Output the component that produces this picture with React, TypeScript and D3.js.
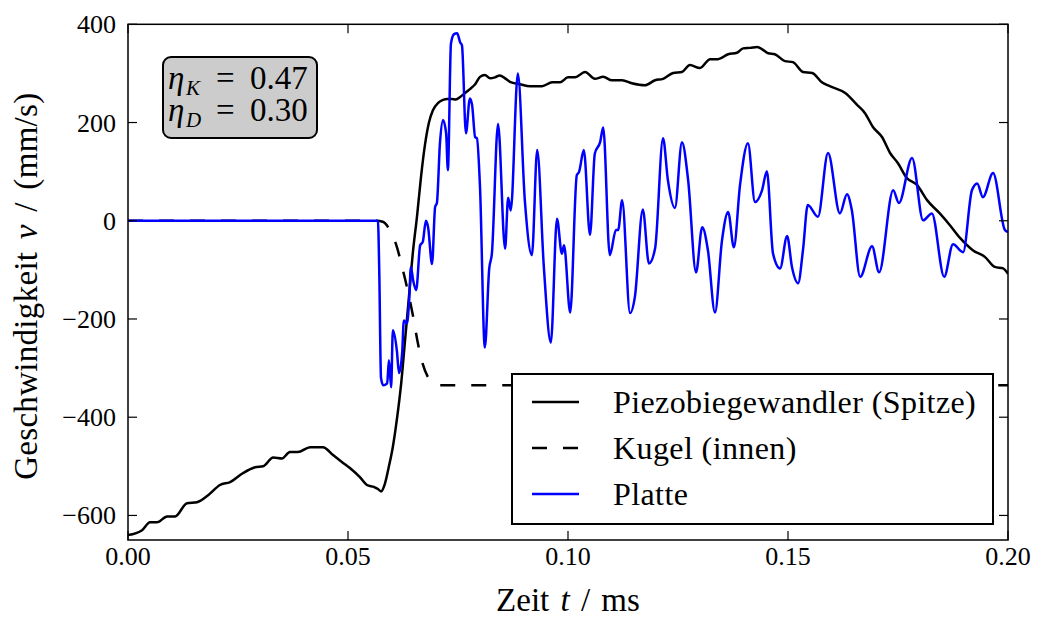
import React from "react";
import * as d3 from "d3";

// ---- data (time in ms, velocity in mm/s) ----
const piezoT = [0, 0.0032, 0.005, 0.0066, 0.0089, 0.0107, 0.0134, 0.0157, 0.0182, 0.0209, 0.0232, 0.0261, 0.0289, 0.0307, 0.033, 0.035, 0.0368, 0.0386, 0.0414, 0.0443, 0.0466, 0.0486, 0.0505, 0.0527, 0.0543, 0.0559, 0.0568, 0.0575, 0.0584, 0.0593, 0.0602, 0.0611, 0.0621, 0.063, 0.0639, 0.0648, 0.0657, 0.0666, 0.0675, 0.0684, 0.0693, 0.0705, 0.0716, 0.0725, 0.0736, 0.0745, 0.0755, 0.0766, 0.0777, 0.0789, 0.08, 0.0811, 0.0823, 0.0834, 0.0845, 0.0857, 0.0868, 0.0891, 0.0914, 0.0941, 0.0964, 0.0982, 0.1, 0.1016, 0.1039, 0.1061, 0.108, 0.11, 0.1123, 0.1145, 0.1175, 0.1198, 0.1216, 0.1239, 0.1259, 0.1277, 0.13, 0.1323, 0.1341, 0.1364, 0.1384, 0.1398, 0.1414, 0.143, 0.1443, 0.1455, 0.147, 0.1493, 0.1511, 0.1534, 0.1555, 0.1577, 0.1595, 0.163, 0.1657, 0.1675, 0.1693, 0.1714, 0.1732, 0.175, 0.177, 0.1793, 0.1816, 0.1845, 0.1868, 0.1891, 0.192, 0.1948, 0.197, 0.1989, 0.2];
const piezoV = [-640, -630, -614, -614, -602, -602, -575, -573, -559, -538, -532, -514, -502, -500, -482, -484, -471, -471, -461, -461, -477, -491, -504, -522, -538, -542, -546, -551, -535, -500, -460, -405, -330, -240, -150, -60, 10, 90, 155, 200, 225, 240, 246, 248, 248, 247, 252, 260, 268, 278, 293, 297, 290, 292, 296, 290, 283, 278, 274, 274, 282, 282, 292, 292, 303, 289, 293, 286, 286, 280, 276, 286, 289, 301, 303, 317, 311, 329, 329, 339, 342, 351, 352, 354, 348, 341, 339, 325, 323, 303, 301, 282, 274, 260, 236, 219, 191, 170, 138, 117, 87, 73, 42, 15, -9, -35, -60, -74, -94, -97, -108];

const kugelT = [0, 0.0565, 0.0579, 0.0595, 0.0611, 0.0623, 0.0634, 0.0648, 0.0659, 0.067, 0.0682, 0.0693, 0.0709, 0.2];
const kugelV = [0, 0, -2, -19, -53, -94, -135, -195, -250, -292, -319, -331, -335, -335];

const platteT = [0, 0.0568, 0.0571, 0.0575, 0.058, 0.0589, 0.0593, 0.0598, 0.0602, 0.0611, 0.0616, 0.0623, 0.0627, 0.0634, 0.0639, 0.0643, 0.0648, 0.0655, 0.0664, 0.067, 0.0677, 0.0682, 0.0691, 0.0698, 0.0702, 0.0709, 0.0716, 0.0723, 0.0727, 0.0734, 0.0741, 0.0748, 0.0755, 0.0759, 0.0768, 0.0777, 0.0782, 0.0789, 0.0793, 0.08, 0.0811, 0.0821, 0.0827, 0.0841, 0.0857, 0.0864, 0.087, 0.0886, 0.0902, 0.0918, 0.093, 0.0945, 0.0961, 0.0975, 0.0986, 0.0991, 0.1005, 0.102, 0.1025, 0.1036, 0.105, 0.1061, 0.1073, 0.108, 0.1095, 0.1109, 0.1114, 0.1123, 0.1141, 0.1152, 0.117, 0.1184, 0.1198, 0.1216, 0.1227, 0.1243, 0.1259, 0.1273, 0.1291, 0.1305, 0.1318, 0.1334, 0.135, 0.1364, 0.1377, 0.1391, 0.1409, 0.1425, 0.1441, 0.1452, 0.1466, 0.1482, 0.1498, 0.1509, 0.1523, 0.1534, 0.1545, 0.1568, 0.1591, 0.1618, 0.1634, 0.1645, 0.1664, 0.1691, 0.1707, 0.1739, 0.1752, 0.1782, 0.1807, 0.1827, 0.1855, 0.1875, 0.1898, 0.1918, 0.193, 0.1943, 0.1966, 0.1993, 0.2];
const platteV = [0, 0, -100, -320, -335, -331, -284, -339, -223, -264, -310, -270, -203, -209, -162, -94, -121, -141, -50, -43, 0, -13, -88, 28, 36, 158, 205, 178, 103, 361, 380, 382, 363, 357, 178, 249, 236, 170, 168, 69, -258, -97, -67, 197, -57, 47, 21, 300, 40, -70, 144, -93, -248, 4, -67, -50, -187, 93, 99, 144, -29, 137, 160, 190, -70, -19, -19, 42, -188, -155, 23, -87, -56, 168, 83, 26, 160, 83, -105, -13, -60, -187, -40, 18, -54, 73, 158, 38, 62, 101, -67, -97, -31, -94, -127, -60, 32, 8, 138, 15, 54, 22, -114, -52, -105, 62, 36, 128, 1, 15, -114, -48, -64, 62, 76, 48, 97, -19, -23];

const xTicks = [0, 0.05, 0.1, 0.15, 0.2];
const yTicks = [-600, -400, -200, 0, 200, 400];
const legendLabels = ["Piezobiegewandler (Spitze)", "Kugel (innen)", "Platte"];
const etaSubs = ["K", "D"];
const etaValues = ["0.47", "0.30"];

const W = 1037;
const H = 619;
const L = 128, R = 1008, T = 24.3, B = 540;
const FONT = "Liberation Serif";

export default function App() {
  const x = d3.scaleLinear().domain([0, 0.2]).range([L, R]);
  const y = d3.scaleLinear().domain([-650, 400]).range([B, T]);
  const mk = (ts: number[], vs: number[]) =>
    d3
      .line<number>()
      .x((_, i) => x(ts[i]))
      .y((v) => y(v))
      .curve(d3.curveMonotoneX)(vs) || "";

  const tickLen = 9;
  const fmtX = d3.format(".2f");
  const fmtY = (v: number) => (v < 0 ? "\u2212" + Math.abs(v) : String(v));
  const lw = 2.5;

  const legendRows = [
    { label: legendLabels[0], color: "#000", dash: undefined as string | undefined },
    { label: legendLabels[1], color: "#000", dash: "15,16" },
    { label: legendLabels[2], color: "#0000ff", dash: undefined },
  ];
  const fs = (size: number): React.CSSProperties => ({ fontFamily: `"${FONT}"`, fontSize: size });

  return (
    <svg width={W} height={H} style={{ position: "absolute", left: 0, top: 0 }}>
      <defs>
        <clipPath id="plotclip">
          <rect x={L} y={T} width={R - L} height={B - T} />
        </clipPath>
      </defs>
      <rect x={0} y={0} width={W} height={H} fill="#fff" />
      <g clipPath="url(#plotclip)">
        <path d={mk(piezoT, piezoV)} fill="none" stroke="#000" strokeWidth={lw} strokeLinejoin="round" />
        <path d={mk(kugelT, kugelV)} fill="none" stroke="#000" strokeWidth={lw} strokeDasharray="15,16" />
        <path d={mk(platteT, platteV)} fill="none" stroke="#0000ff" strokeWidth={lw} strokeLinejoin="round" />
      </g>

      {xTicks.map((t) => (
        <g key={"xt" + t}>
          <line x1={x(t)} x2={x(t)} y1={B} y2={B - tickLen} stroke="#000" strokeWidth={1.2} />
          <line x1={x(t)} x2={x(t)} y1={T} y2={T + tickLen} stroke="#000" strokeWidth={1.2} />
          <text x={x(t)} y={565} textAnchor="middle" fill="#000" style={fs(26)}>
            {fmtX(t)}
          </text>
        </g>
      ))}
      {yTicks.map((v) => (
        <g key={"yt" + v}>
          <line x1={L} x2={L + tickLen} y1={y(v)} y2={y(v)} stroke="#000" strokeWidth={1.2} />
          <line x1={R} x2={R - tickLen} y1={y(v)} y2={y(v)} stroke="#000" strokeWidth={1.2} />
          <text x={116} y={y(v) + 9} textAnchor="end" fill="#000" style={fs(26)}>
            {fmtY(v)}
          </text>
        </g>
      ))}

      <rect x={L} y={T} width={R - L} height={B - T} fill="none" stroke="#000" strokeWidth={1.5} />

      <text x={(L + R) / 2} y={611} textAnchor="middle" fill="#000" style={{ ...fs(33), wordSpacing: 3 }}>
        Zeit <tspan fontStyle="italic">t</tspan> / ms
      </text>
      <text
        transform={`translate(37, ${(T + B) / 2 + 4}) rotate(-90)`}
        textAnchor="middle"
        fill="#000"
        style={{ ...fs(33), wordSpacing: 4, letterSpacing: 0.3 }}
      >
        Geschwindigkeit <tspan fontStyle="italic">v</tspan> / (mm/s)
      </text>

      <rect x={163} y={57} width={154} height={81} rx={8} ry={8} fill="#cccccc" stroke="#000" strokeWidth={2} />
      {etaSubs.map((s, i) => {
        const by = 89 + i * 32;
        return (
          <g key={s}>
            <text x={168} y={by} fill="#000" fontStyle="italic" style={fs(33)}>η</text>
            <text x={186} y={by + 6} fill="#000" fontStyle="italic" style={fs(21)}>{s}</text>
            <text x={216} y={by} fill="#000" style={fs(33)}>=</text>
            <text x={250} y={by} fill="#000" style={fs(33)}>{etaValues[i]}</text>
          </g>
        );
      })}

      <rect x={512} y={374} width={481} height={150} fill="#fff" stroke="#000" strokeWidth={2} />
      {legendRows.map((r, i) => {
        const cy = 402 + i * 46;
        return (
          <g key={r.label}>
            <line x1={532} x2={579} y1={cy} y2={cy} stroke={r.color} strokeWidth={lw} strokeDasharray={r.dash} />
            <text x={613} y={cy + 11} fill="#000" style={{ ...fs(32), letterSpacing: 0.4 }}>
              {r.label}
            </text>
          </g>
        );
      })}
    </svg>
  );
}
